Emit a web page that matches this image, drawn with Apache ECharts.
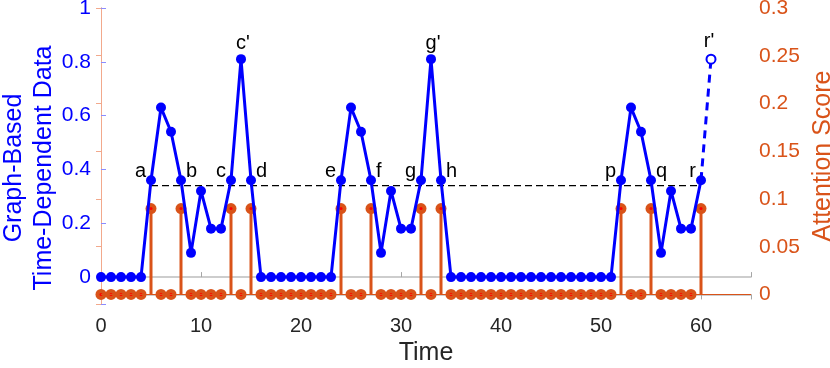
<!DOCTYPE html>
<html>
<head>
<meta charset="utf-8">
<script src="https://cdn.jsdelivr.net/npm/echarts@6/dist/echarts.min.js"></script>
<style>
  html, body { margin: 0; padding: 0; background: #fff; }
  #chart { width: 830px; height: 368px; }
</style>
</head>
<body>
<div id="chart"></div>
<script>
// time steps 0..60
const time = Array.from({ length: 61 }, (_, i) => i);

// graph-based time-dependent data (blue)
const graphData = [
  0, 0, 0, 0, 0, 0.36, 0.63, 0.54, 0.36, 0.09, 0.32, 0.18, 0.18, 0.36, 0.81, 0.36,
  0, 0, 0, 0, 0, 0, 0, 0,
  0.36, 0.63, 0.54, 0.36, 0.09, 0.32, 0.18, 0.18, 0.36, 0.81, 0.36,
  0, 0, 0, 0, 0, 0, 0, 0, 0, 0, 0, 0, 0, 0, 0, 0, 0,
  0.36, 0.63, 0.54, 0.36, 0.09, 0.32, 0.18, 0.18, 0.36
];

// attention score (orange stems)
const attention = [
  0, 0, 0, 0, 0, 0.09, 0, 0, 0.09, 0, 0, 0, 0, 0.09, 0, 0.09,
  0, 0, 0, 0, 0, 0, 0, 0,
  0.09, 0, 0, 0.09, 0, 0, 0, 0, 0.09, 0, 0.09,
  0, 0, 0, 0, 0, 0, 0, 0, 0, 0, 0, 0, 0, 0, 0, 0, 0,
  0.09, 0, 0, 0.09, 0, 0, 0, 0, 0.09
];

// predicted next value
const forecastX = [60, 61];
const forecastY = [0.36, 0.81];
const forecastLabel = "r'";

// dashed threshold
const thresholdX = [5, 60];
const threshold = 0.34;

// point annotations
const annotX = [5, 8, 13, 14, 15, 24, 27, 32, 33, 34, 52, 55, 60];
const annotText = ['a', 'b', 'c', "c'", 'd', 'e', 'f', 'g', "g'", 'h', 'p', 'q', 'r'];

const xTicks = [0, 10, 20, 30, 40, 50, 60];

const BLUE = '#0000FF';
const ORANGE = '#D95319';
const FONT = '"Liberation Sans", Arial, Helvetica, sans-serif';

// build blue data with labels
const blueItems = time.map((t, i) => {
  const k = annotX.indexOf(t);
  const item = { value: [t, graphData[i]] };
  if (k >= 0) {
    const txt = annotText[k];
    let pos;
    if (txt.indexOf("'") >= 0) pos = 'top';
    else pos = graphData[i - 1] < graphData[i] ? 'left' : 'right';
    item.label = {
      show: true,
      formatter: txt,
      position: pos,
      distance: pos === 'top' ? 1 : 0,
      offset: pos === 'top' ? [2, 0] : [0, -9],
      color: '#000',
      fontSize: 20,
      fontFamily: FONT
    };
  }
  return item;
});

const forecastItems = forecastX.map((x, i) => {
  const item = { value: [x, forecastY[i]] };
  if (i === forecastX.length - 1) {
    item.label = {
      show: true, formatter: forecastLabel, position: 'top', distance: 2, offset: [-2, 0],
      color: '#000', fontSize: 20, fontFamily: FONT
    };
  }
  return item;
});

const chart = echarts.init(document.getElementById('chart'));

chart.setOption({
  animation: false,
  textStyle: { fontFamily: FONT },
  grid: { left: 101, right: 79, top: 8, bottom: 64, outerBoundsMode: 'none' },
  xAxis: [
    {
      type: 'value', min: 0, max: 65, interval: 10, position: 'bottom',
      name: 'Time', nameLocation: 'middle', nameGap: 37,
      nameTextStyle: { color: '#262626', fontSize: 25, fontFamily: FONT },
      axisLine: { show: true, lineStyle: { color: '#BDBDBD', width: 1.5 } },
      axisTick: { inside: true, length: 5, lineStyle: { color: '#A6A6A6' } },
      axisLabel: {
        color: '#262626', fontSize: 20, margin: 12, fontFamily: FONT,
        formatter: v => (xTicks.indexOf(v) >= 0 ? String(v) : '')
      },
      splitLine: { show: false }
    },
    {
      type: 'value', min: 0, max: 65, interval: 10, position: 'top',
      axisLine: { show: true, lineStyle: { color: '#BDBDBD', width: 1.5 } },
      axisTick: { inside: true, length: 5, lineStyle: { color: '#A6A6A6' } },
      axisLabel: { show: false },
      splitLine: { show: false }
    }
  ],
  yAxis: [
    {
      type: 'value', min: -0.1, max: 1, splitNumber: 5, position: 'left',
      name: 'Graph-Based\nTime-Dependent Data', nameLocation: 'middle', nameGap: 42, nameRotate: 90,
      nameMoveOverlap: false,
      nameTextStyle: { color: BLUE, fontSize: 25, lineHeight: 30, fontFamily: FONT, padding: [0, 24, 0, 0] },
      axisLine: { show: true, lineStyle: { color: '#8C8CFF', width: 1 } },
      axisTick: { inside: true, length: 5, lineStyle: { color: '#8C8CFF' } },
      axisLabel: {
        color: BLUE, fontSize: 21, margin: 10, fontFamily: FONT,
        formatter: v => (v < 0 ? '' : String(v))
      },
      splitLine: { show: false }
    },
    {
      type: 'value', min: -0.01, max: 0.3, splitNumber: 6, position: 'right',
      name: 'Attention Score', nameLocation: 'middle', nameGap: 56, nameRotate: 90,
      nameTextStyle: { color: ORANGE, fontSize: 25, fontFamily: FONT },
      axisLine: { show: true, lineStyle: { color: '#F2A98C', width: 1 } },
      axisTick: { inside: true, length: 5, lineStyle: { color: '#F2A98C' } },
      axisLabel: {
        color: ORANGE, fontSize: 21, margin: 8, fontFamily: FONT,
        formatter: v => (v < 0 ? '' : String(v))
      },
      splitLine: { show: false }
    }
  ],
  series: [
    {
      // threshold
      type: 'line', xAxisIndex: 0, yAxisIndex: 0, symbol: 'none', z: 1,
      data: thresholdX.map(x => [x, threshold]),
      lineStyle: { color: '#000', width: 1.3, type: [7, 4] }
    },
    {
      // stems
      type: 'bar', xAxisIndex: 0, yAxisIndex: 1, barWidth: 3, z: 2,
      itemStyle: { color: ORANGE },
      data: time.map((t, i) => [t, attention[i]]),
      markLine: {
        silent: true, symbol: 'none', label: { show: false },
        lineStyle: { color: ORANGE, width: 1, type: 'solid' },
        data: [{ yAxis: 0 }]
      }
    },
    {
      type: 'scatter', xAxisIndex: 0, yAxisIndex: 1, symbolSize: 11, z: 3,
      itemStyle: { color: ORANGE, opacity: 1 },
      data: time.map((t, i) => [t, attention[i]])
    },
    {
      type: 'scatter', xAxisIndex: 0, yAxisIndex: 1, symbolSize: 3, z: 4,
      itemStyle: { color: '#FF0000', opacity: 1 },
      data: time.map((t, i) => [t, attention[i]])
    },
    {
      type: 'line', xAxisIndex: 0, yAxisIndex: 0, z: 5,
      symbol: 'circle', symbolSize: 10, showAllSymbol: true,
      lineStyle: { color: BLUE, width: 3 },
      itemStyle: { color: BLUE },
      data: blueItems
    },
    {
      type: 'line', xAxisIndex: 0, yAxisIndex: 0, z: 5,
      symbol: (val, p) => (p.dataIndex === forecastX.length - 1 ? 'emptyCircle' : 'none'),
      symbolSize: 9,
      lineStyle: { color: BLUE, width: 3, type: [8, 6] },
      itemStyle: { color: BLUE, borderWidth: 2.5 },
      data: forecastItems
    }
  ]
});
</script>
</body>
</html>
